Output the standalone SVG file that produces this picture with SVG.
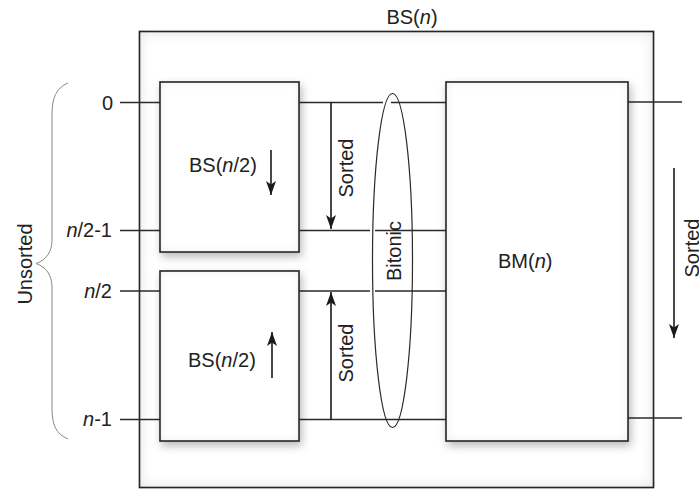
<svg xmlns="http://www.w3.org/2000/svg" width="699" height="489" viewBox="0 0 699 489">
<style>
  .box { fill: #fff; stroke: #2a2a2a; stroke-width: 1.6; }
  .ln { stroke: #2a2a2a; stroke-width: 1.6; fill: none; }
  .arr { stroke: #1a1a1a; stroke-width: 1.6; fill: none; marker-end: url(#ah); }
  .brace { stroke: #888; stroke-width: 1; fill: none; }
  text { font-family: "Liberation Sans", Arial, sans-serif; font-size: 20px; fill: #222; }
  .i { font-style: italic; }
</style>
<defs>
  <marker id="ah" markerUnits="userSpaceOnUse" viewBox="0 0 14 10" refX="14" refY="5" markerWidth="14" markerHeight="10" orient="auto">
    <path d="M0,0 L14,5 L0,10 L3.5,5 Z" fill="#1a1a1a"/>
  </marker>
  <filter id="outerF" x="-5%" y="-5%" width="110%" height="110%">
    <feFlood flood-color="#000" flood-opacity="0.3" result="f"/>
    <feComposite in="f" in2="SourceAlpha" operator="out" result="o"/>
    <feGaussianBlur in="o" stdDeviation="7" result="ob"/>
    <feComposite in="ob" in2="SourceAlpha" operator="in" result="inner"/>
    <feMerge><feMergeNode in="SourceGraphic"/><feMergeNode in="inner"/></feMerge>
  </filter>
  <filter id="boxF" x="-20%" y="-20%" width="140%" height="140%">
    <feGaussianBlur in="SourceAlpha" stdDeviation="4" result="b"/>
    <feOffset in="b" dx="2" dy="4" result="ob"/>
    <feFlood flood-color="#000" flood-opacity="0.28"/>
    <feComposite in2="ob" operator="in" result="drop"/>
    <feFlood flood-color="#000" flood-opacity="0.2" result="f2"/>
    <feComposite in="f2" in2="SourceAlpha" operator="out" result="out"/>
    <feGaussianBlur in="out" stdDeviation="5" result="outb"/>
    <feComposite in="outb" in2="SourceAlpha" operator="in" result="inner"/>
    <feMerge><feMergeNode in="drop"/><feMergeNode in="SourceGraphic"/><feMergeNode in="inner"/></feMerge>
  </filter>
</defs>

<g id="bs-n">
  <rect class="box" x="139.5" y="31.5" width="514" height="456" filter="url(#outerF)"/>
  <text x="412" y="24" text-anchor="middle">BS(<tspan class="i">n</tspan>)</text>
</g>

<g id="connectors">
  <line class="ln" x1="120" y1="102.5" x2="160" y2="102.5"/>
  <line class="ln" x1="120" y1="230.5" x2="160" y2="230.5"/>
  <line class="ln" x1="120" y1="291" x2="160" y2="291"/>
  <line class="ln" x1="120" y1="419.5" x2="160" y2="419.5"/>
  <line class="ln" x1="299" y1="102.5" x2="383" y2="102.5"/>
  <line class="ln" x1="391" y1="102.5" x2="446" y2="102.5"/>
  <line class="ln" x1="299" y1="230.5" x2="370" y2="230.5"/>
  <line class="ln" x1="375" y1="230.5" x2="446" y2="230.5"/>
  <line class="ln" x1="299" y1="291" x2="370" y2="291"/>
  <line class="ln" x1="375" y1="291" x2="446" y2="291"/>
  <line class="ln" x1="299" y1="419.5" x2="446" y2="419.5"/>
  <line class="ln" x1="628" y1="102" x2="682" y2="102"/>
  <line class="ln" x1="628" y1="418" x2="682" y2="418"/>
  <line class="arr" x1="331" y1="102.5" x2="331" y2="229"/>
  <line class="arr" x1="331" y1="419.5" x2="331" y2="292"/>
  <line class="arr" x1="674" y1="168" x2="674" y2="338"/>
  <ellipse cx="392.5" cy="260.5" rx="20" ry="167" fill="none" stroke="#2a2a2a" stroke-width="1.2"/>
</g>

<g id="bs-top">
  <rect class="box" x="160" y="82" width="139" height="170" filter="url(#boxF)"/>
  <text x="189" y="172">BS(<tspan class="i">n</tspan>/2)</text>
  <line class="arr" x1="271" y1="150" x2="271" y2="195"/>
</g>
<g id="bs-bottom">
  <rect class="box" x="160" y="271" width="139" height="170" filter="url(#boxF)"/>
  <text x="188" y="367">BS(<tspan class="i">n</tspan>/2)</text>
  <line class="arr" x1="272" y1="378" x2="272" y2="332"/>
</g>
<g id="bm-n">
  <rect class="box" x="446" y="82" width="182" height="359" filter="url(#boxF)"/>
  <text x="498" y="268">BM(<tspan class="i">n</tspan>)</text>
</g>

<g id="labels">
  <text x="113" y="109.5" text-anchor="end">0</text>
  <text x="112" y="237" text-anchor="end"><tspan class="i">n</tspan>/2-1</text>
  <text x="112" y="297.5" text-anchor="end"><tspan class="i">n</tspan>/2</text>
  <text x="112" y="426" text-anchor="end"><tspan class="i">n</tspan>-1</text>
  <text transform="translate(352.5,168) rotate(-90)" text-anchor="middle">Sorted</text>
  <text transform="translate(352.5,353) rotate(-90)" text-anchor="middle">Sorted</text>
  <text transform="translate(400.5,251) rotate(-90)" text-anchor="middle">Bitonic</text>
  <text transform="translate(699,248) rotate(-90)" text-anchor="middle">Sorted</text>
  <text transform="translate(31.5,264) rotate(-90)" text-anchor="middle">Unsorted</text>
</g>

<g id="brace">
  <path class="brace" d="M68,83 C56,88 52,98 52,115 L52,240 C52,252 46,260 36,263.5 C46,267 52,275 52,287 L52,408 C52,425 56,434 68,439"/>
</g>
</svg>
